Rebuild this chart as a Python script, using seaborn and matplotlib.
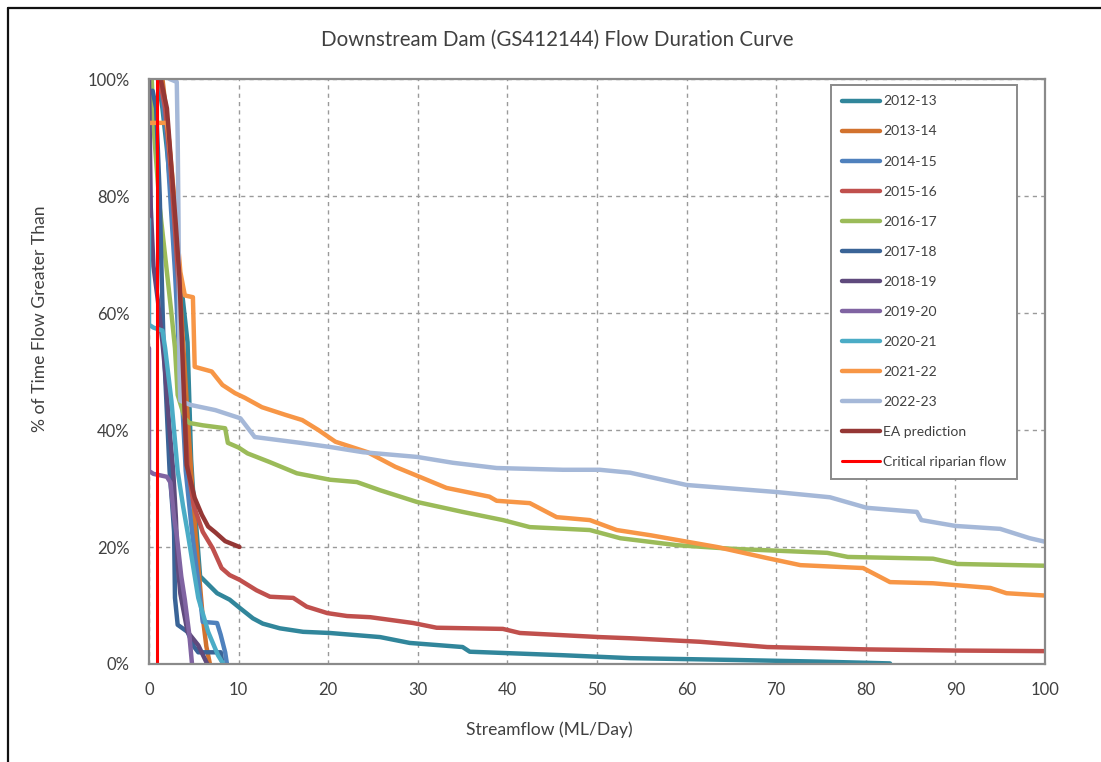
import matplotlib
matplotlib.use("Agg")
import matplotlib.pyplot as plt
from matplotlib.ticker import FuncFormatter
import seaborn as sns
import pandas as pd

# ---------------- data ----------------
series_names = ["2012-13", "2013-14", "2014-15", "2015-16", "2016-17", "2017-18",
                "2018-19", "2019-20", "2020-21", "2021-22", "2022-23",
                "EA prediction", "Critical riparian flow"]

s2012_flow = [1.0, 1.5, 2.0, 2.5, 3.2, 3.8, 4.3, 4.5, 4.7, 4.9, 5.2, 5.7, 7.6, 9.0, 10.2, 11.6, 12.7,
              14.6, 17.2, 20.2, 25.8, 29.1, 35.0, 35.8, 46.2, 53.7, 65.0, 75.0, 82.7]
s2012_pct = [100, 95, 88, 80, 70, 62, 55, 45, 35, 30, 25, 15.0, 12.1, 11.0, 9.5, 7.8, 6.9,
             6.1, 5.5, 5.3, 4.6, 3.6, 2.9, 2.1, 1.5, 1.0, 0.7, 0.4, 0.1]

s2013_flow = [1.5, 1.8, 2.2, 2.6, 3.0, 3.6, 4.2, 4.7, 5.2, 5.6, 6.0, 6.4, 6.8]
s2013_pct = [100, 96, 90, 82, 75, 60, 45, 33, 22, 15, 8, 3, 0]

s2014_flow = [1.2, 1.5, 2.0, 2.2, 2.9, 3.3, 3.7, 4.1, 4.8, 5.5, 6.0, 7.6, 8.0, 8.5, 8.7]
s2014_pct = [100, 97, 90, 84, 67, 55, 45, 33, 22.6, 14, 7.2, 7.0, 5.0, 2.0, 0]

s2015_flow = [1.2, 1.8, 2.4, 3.0, 3.5, 3.8, 4.1, 4.3, 5.0, 6.0, 7.1, 8.1, 9.0, 10.1, 12.0, 13.5,
              16.1, 17.6, 19.9, 22.1, 24.7, 29.5, 32.1, 39.5, 41.4, 50.3, 53.7, 61.5, 69.0,
              80.0, 90.0, 100.0]
s2015_pct = [100, 95, 85, 72, 60, 48, 40, 34, 27, 22.6, 19.8, 16.4, 15.2, 14.4, 12.6, 11.5,
             11.3, 9.8, 8.7, 8.2, 8.0, 7.0, 6.2, 6.0, 5.3, 4.6, 4.4, 3.8, 2.9,
             2.5, 2.3, 2.2]

s2016_flow = [0.3, 0.6, 1.2, 2.0, 2.5, 2.9, 3.2, 4.0, 4.5, 6.0, 8.5, 8.8, 10.0, 11.0, 13.5, 16.5,
              20.2, 23.2, 25.8, 29.9, 35.0, 39.5, 42.5, 49.2, 52.6, 59.0, 65.0, 75.7, 78.0,
              87.5, 90.2, 100.0]
s2016_pct = [100, 90, 78, 67, 60, 54, 46, 42, 41.2, 40.8, 40.3, 37.8, 37.0, 36.0, 34.5, 32.6,
             31.5, 31.1, 29.7, 27.7, 26.0, 24.6, 23.4, 22.9, 21.5, 20.3, 19.7, 19.0, 18.3,
             18.0, 17.1, 16.8]

s2017_flow = [0.4, 0.8, 1.2, 1.4, 1.6, 2.3, 2.6, 2.8, 2.9, 3.2, 4.3, 5.0, 5.5, 8.0, 8.2]
s2017_pct = [98, 95, 80, 67, 56, 33, 27, 22.6, 11.3, 6.7, 5.5, 3.0, 2.0, 2.0, 0]

s2018_flow = [0.0, 0.2, 0.5, 1.0, 1.5, 1.8, 2.3, 2.7, 3.0, 3.2, 3.5, 4.3, 5.5, 6.5]
s2018_pct = [100, 78, 68, 62, 55, 50, 40, 33, 25, 17, 12, 5.5, 3.2, 0]

s2019_flow = [0.0, 0.0, 0.5, 2.0, 2.4, 2.8, 3.1, 3.6, 4.0, 4.5, 4.8]
s2019_pct = [54, 33, 32.5, 32, 31, 25, 22, 15, 11, 5, 0]

s2020_flow = [0.0, 0.0, 0.5, 1.5, 1.8, 2.5, 3.2, 3.8, 4.3, 5.0, 5.5, 6.6, 7.7, 8.3]
s2020_pct = [76, 58, 57.5, 57, 54, 45, 33, 27, 22.6, 16, 11.3, 5.5, 1.5, 0]

s2021_flow = [0.0, 2.0, 2.2, 2.8, 3.5, 4.0, 4.9, 5.1, 7.0, 8.2, 9.6, 10.7, 12.6, 15.2, 17.1,
              18.9, 20.8, 24.4, 27.5, 30.2, 33.2, 38.0, 38.8, 42.5, 45.5, 49.2, 52.2, 56.0,
              63.4, 69.0, 72.7, 79.7, 82.7, 87.5, 93.9, 95.7, 100.0]
s2021_pct = [92.5, 92.5, 90, 80, 67, 63, 62.7, 50.8, 50, 47.7, 46.3, 45.5, 43.9, 42.6, 41.7,
             40, 38, 36.2, 33.7, 32, 30.1, 28.6, 27.9, 27.5, 25.1, 24.6, 22.9, 22,
             20, 18.1, 16.9, 16.4, 14, 13.8, 13, 12.1, 11.7]

s2022_flow = [2.3, 3.1, 3.2, 3.3, 3.4, 3.5, 4.6, 7.4, 10.2, 11.8, 16.9, 20.2, 23.9, 29.9, 33.9,
              38.8, 46.2, 50.3, 53.7, 60.0, 70.0, 76.0, 80.1, 85.7, 86.2, 90.0, 95.0, 98.3, 100.0]
s2022_pct = [100, 99.5, 90, 75, 50, 45, 44.3, 43.4, 42, 38.8, 37.8, 37.1, 36.2, 35.4, 34.4,
             33.5, 33.2, 33.2, 32.7, 30.6, 29.4, 28.5, 26.7, 26, 24.6, 23.6, 23.1, 21.5, 20.9]

ea_flow = [1.3, 2.0, 2.5, 3.0, 3.4, 3.8, 4.2, 5.1, 5.9, 6.6, 7.4, 8.5, 10.1]
ea_pct = [100, 95, 85, 75, 66, 50, 34, 28.4, 25.5, 23.5, 22.5, 21, 20]

crit_flow = [0.9, 0.9]
crit_pct = [0, 100]

series_flows = [s2012_flow, s2013_flow, s2014_flow, s2015_flow, s2016_flow, s2017_flow,
                s2018_flow, s2019_flow, s2020_flow, s2021_flow, s2022_flow, ea_flow, crit_flow]
series_pcts = [s2012_pct, s2013_pct, s2014_pct, s2015_pct, s2016_pct, s2017_pct,
               s2018_pct, s2019_pct, s2020_pct, s2021_pct, s2022_pct, ea_pct, crit_pct]

colors = ["#31869B", "#D2722E", "#4F81BD", "#C0504D", "#9BBB59", "#3A6497",
          "#5F4A7D", "#8064A2", "#4BACC6", "#F79646", "#A5B8D8", "#953735", "#FF0000"]
widths = [3.2] * 12 + [2.2]

xticks = list(range(0, 101, 10))
yticks = list(range(0, 101, 20))

# ---------------- plot ----------------
sns.set_theme(style="white")
FONT = ["Lato", "DejaVu Sans"]
plt.rcParams["font.family"] = FONT

fig = plt.figure(figsize=(11.01, 7.62), dpi=100)
ax = fig.add_axes([149 / 1101, 1 - 664 / 762, (1045 - 149) / 1101, (664 - 79) / 762])

for name, fl, pc, col, lw in zip(series_names, series_flows, series_pcts, colors, widths):
    df = pd.DataFrame({"flow": fl, "pct": pc})
    sns.lineplot(data=df, x="flow", y="pct", sort=False, estimator=None, ax=ax,
                 color=col, linewidth=lw, label=name, solid_capstyle="round",
                 solid_joinstyle="round")

ax.set_xlim(0, 100)
ax.set_ylim(0, 100)
ax.set_xticks(xticks)
ax.set_yticks(yticks)
ax.yaxis.set_major_formatter(FuncFormatter(lambda v, p: f"{int(v)}%"))
ax.tick_params(axis="both", length=0, labelsize=12, colors="#404040")
ax.tick_params(axis="y", pad=14)
ax.tick_params(axis="x", pad=13)
ax.set_xlabel("")
ax.set_ylabel("")
ax.grid(True, color="#9A9A9A", linestyle=(0, (3, 3)), linewidth=1.0)
for sp in ax.spines.values():
    sp.set_color("#8A8A8A")
    sp.set_linewidth(1.6)

leg = ax.legend(loc="upper right", bbox_to_anchor=(1017 / 1101, 1 - 85 / 762),
                bbox_transform=fig.transFigure, borderaxespad=0, frameon=True,
                fontsize=10, labelspacing=1.3, handlelength=2.75, handletextpad=0.25,
                borderpad=0.75, fancybox=False, edgecolor="#8A8A8A", framealpha=1)
leg.get_frame().set_linewidth(1.4)
for t in leg.get_texts():
    t.set_color("#404040")

fig.text(557 / 1101, 1 - 40 / 762, "Downstream Dam (GS412144) Flow Duration Curve",
         ha="center", va="center", fontsize=14.8, color="#404040")
fig.text(549 / 1101, 1 - 730 / 762, "Streamflow (ML/Day)", ha="center", va="center",
         fontsize=12.6, color="#404040")
fig.text(40 / 1101, 1 - 319 / 762, "% of Time Flow Greater Than", ha="center", va="center",
         rotation=90, fontsize=12.6, color="#404040")

# outer chart-area border (left and top edges visible)
fig.add_artist(plt.Line2D([7.5 / 1101, 7.5 / 1101], [0, 1 - 8 / 762], transform=fig.transFigure,
                          color="#111111", linewidth=1.6))
fig.add_artist(plt.Line2D([7.5 / 1101, 1], [1 - 8 / 762, 1 - 8 / 762], transform=fig.transFigure,
                          color="#111111", linewidth=1.6))

fig.savefig("out.png", dpi=100)
